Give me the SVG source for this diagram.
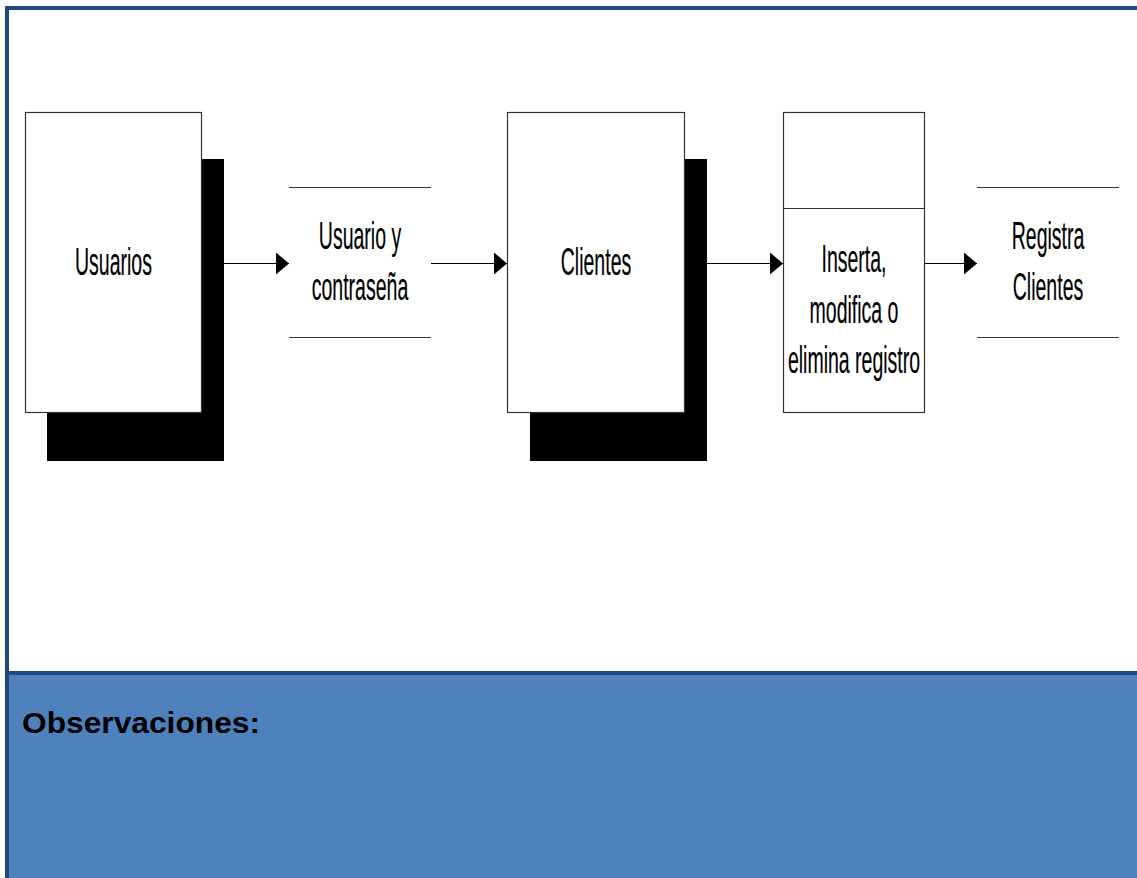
<svg xmlns="http://www.w3.org/2000/svg" width="1137" height="878" viewBox="0 0 1137 878">
  <style>
    .frame { fill: #1F497D; }
    .box { fill: #ffffff; stroke: #333333; stroke-width: 1.2; }
    .shadow { fill: #000000; }
    .store { stroke: #333333; stroke-width: 1.2; fill: none; }
    .flow { stroke: #000000; stroke-width: 1.2; fill: none; marker-end: url(#arrow); }
    .lbl { font-family: "Liberation Sans", Arial, sans-serif; font-size: 39px; fill: #000000; text-anchor: middle; stroke: #000000; stroke-width: 0.2; }
    .obs { font-family: "Liberation Sans", Arial, sans-serif; font-size: 29px; font-weight: bold; fill: #000000; }
  </style>
  <defs>
    <marker id="arrow" markerWidth="13" markerHeight="22" refX="13" refY="11" orient="auto" markerUnits="userSpaceOnUse">
      <path d="M0,0 L13,11 L0,22 Z" fill="#000000"/>
    </marker>
  </defs>

  <!-- page background -->
  <rect x="0" y="0" width="1137" height="878" fill="#ffffff"/>

  <!-- observations panel -->
  <rect x="9" y="675" width="1128" height="203" fill="#4F81BD"/>

  <!-- frame lines -->
  <rect class="frame" x="5" y="6" width="1132" height="4"/>
  <rect class="frame" x="5" y="6" width="4" height="872"/>
  <rect class="frame" x="9" y="671" width="1128" height="4"/>

  <!-- external entity: Usuarios -->
  <g id="usuarios">
    <rect class="shadow" x="47" y="159" width="177" height="302"/>
    <rect class="box" x="25.5" y="112.5" width="176" height="300"/>
    <text class="lbl" transform="translate(113.5,275) scale(0.5,1)">Usuarios</text>
  </g>

  <!-- data store: Usuario y contraseña -->
  <g id="usuario-contrasena">
    <line class="store" x1="289" y1="187.5" x2="431" y2="187.5"/>
    <line class="store" x1="289" y1="337.5" x2="431" y2="337.5"/>
    <text class="lbl" transform="translate(360,249) scale(0.5,1)">Usuario y</text>
    <text class="lbl" transform="translate(360,300) scale(0.5,1)">contraseña</text>
  </g>

  <!-- external entity: Clientes -->
  <g id="clientes">
    <rect class="shadow" x="530" y="159" width="177" height="302"/>
    <rect class="box" x="507.5" y="112.5" width="177" height="300"/>
    <text class="lbl" transform="translate(596,275) scale(0.5,1)">Clientes</text>
  </g>

  <!-- process: Inserta, modifica o elimina registro -->
  <g id="proceso">
    <rect class="box" x="783.5" y="112.5" width="141" height="300"/>
    <line class="store" x1="783.5" y1="208.5" x2="924.5" y2="208.5"/>
    <text class="lbl" transform="translate(854,272) scale(0.5,1)">Inserta,</text>
    <text class="lbl" transform="translate(854,323) scale(0.5,1)">modifica o</text>
    <text class="lbl" transform="translate(854,373) scale(0.5,1)">elimina registro</text>
  </g>

  <!-- data store: Registra Clientes -->
  <g id="registra-clientes">
    <line class="store" x1="977" y1="187.5" x2="1119" y2="187.5"/>
    <line class="store" x1="977" y1="337.5" x2="1119" y2="337.5"/>
    <text class="lbl" transform="translate(1048,249) scale(0.5,1)">Registra</text>
    <text class="lbl" transform="translate(1048,300) scale(0.5,1)">Clientes</text>
  </g>

  <!-- data flows -->
  <g id="connectors">
    <line class="flow" x1="224" y1="263.5" x2="289" y2="263.5"/>
    <line class="flow" x1="431" y1="263.5" x2="507" y2="263.5"/>
    <line class="flow" x1="707" y1="263.5" x2="783" y2="263.5"/>
    <line class="flow" x1="925" y1="263.5" x2="977" y2="263.5"/>
  </g>

  <text class="obs" x="22" y="733" textLength="238" lengthAdjust="spacingAndGlyphs">Observaciones:</text>
</svg>
